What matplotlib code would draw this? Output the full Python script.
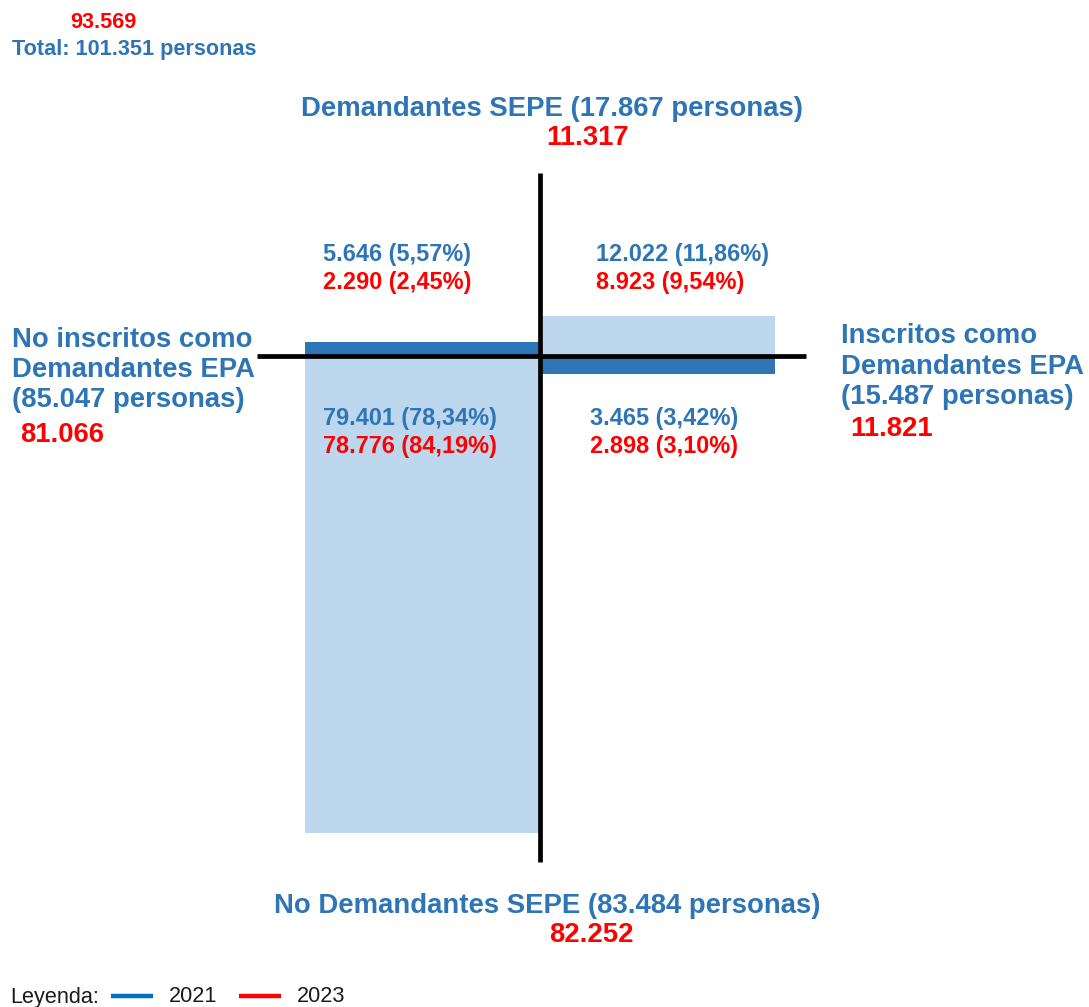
import matplotlib
matplotlib.use("Agg")
import matplotlib.pyplot as plt

# ---------------- data ----------------
total_2021 = "101.351"
total_2023 = "93.569"

axis_labels_2021 = {
    "top": "Demandantes SEPE (17.867 personas)",
    "bottom": "No Demandantes SEPE (83.484 personas)",
    "left": "No inscritos como\nDemandantes EPA\n(85.047 personas)",
    "right": "Inscritos como\nDemandantes EPA\n(15.487 personas)",
}
axis_values_2023 = {"top": "11.317", "bottom": "82.252", "left": "81.066", "right": "11.821"}

# quadrants: top-left, top-right, bottom-left, bottom-right
quadrants = ["TL", "TR", "BL", "BR"]
q_values_2021 = ["5.646 (5,57%)", "12.022 (11,86%)", "79.401 (78,34%)", "3.465 (3,42%)"]
q_values_2023 = ["2.290 (2,45%)", "8.923 (9,54%)", "78.776 (84,19%)", "2.898 (3,10%)"]
# bar extents (as drawn in the diagram, arbitrary units)
bar_heights = [14, 40, 477, 18]
bar_width = 235
bar_colors = ["#2E75B6", "#BDD7EE", "#BDD7EE", "#2E75B6"]

legend_years = ["2021", "2023"]
legend_colors = ["#0070C0", "#FF0000"]

BLUE = "#2E75B6"
RED = "#FF0000"
FONT = "Liberation Sans"

# ---------------- figure ----------------
W, H = 1089, 1007
fig = plt.figure(figsize=(W / 100, H / 100), dpi=100)
ax = fig.add_axes([0, 0, 1, 1])
ax.set_xlim(0, W)
ax.set_ylim(H, 0)
ax.axis("off")

cx, cy = 540, 356

# bars
dirs = {"TL": (-1, -1), "TR": (1, -1), "BL": (-1, 1), "BR": (1, 1)}
for q, h, c in zip(quadrants, bar_heights, bar_colors):
    sx, sy = dirs[q]
    left = cx if sx > 0 else cx - bar_width
    ax.bar(left, sy * h, width=bar_width, bottom=cy, align="edge",
           color=c, edgecolor="none", zorder=1)

# axes cross
ax.plot([257, 806], [cy, cy], color="black", lw=3.4, solid_capstyle="butt", zorder=3)
ax.plot([cx, cx], [173, 862], color="black", lw=3.4, solid_capstyle="butt", zorder=3)

big = 19.8
mid = 16.9
small = 15.6

# totals
ax.text(103, 22, total_2023, color=RED, fontsize=small, fontweight="bold",
        family=FONT, ha="center", va="center")
ax.text(12, 50, f"Total: {total_2021} personas", color=BLUE, fontsize=small,
        fontweight="bold", family=FONT, ha="left", va="center")

# axis labels
ax.text(552, 109, axis_labels_2021["top"], color=BLUE, fontsize=big, fontweight="bold",
        family=FONT, ha="center", va="center")
ax.text(588, 138, axis_values_2023["top"], color=RED, fontsize=big, fontweight="bold",
        family=FONT, ha="center", va="center")

ax.text(547, 906, axis_labels_2021["bottom"], color=BLUE, fontsize=big, fontweight="bold",
        family=FONT, ha="center", va="center")
ax.text(591, 935, axis_values_2023["bottom"], color=RED, fontsize=big, fontweight="bold",
        family=FONT, ha="center", va="center")

for i, line in enumerate(axis_labels_2021["left"].split("\n")):
    ax.text(12, 340 + 30 * i, line, color=BLUE, fontsize=big, fontweight="bold",
            family=FONT, ha="left", va="center")
ax.text(20, 435, axis_values_2023["left"], color=RED, fontsize=big, fontweight="bold",
        family=FONT, ha="left", va="center")

for i, line in enumerate(axis_labels_2021["right"].split("\n")):
    ax.text(841, 336 + 30.5 * i, line, color=BLUE, fontsize=big, fontweight="bold",
            family=FONT, ha="left", va="center")
ax.text(850, 429, axis_values_2023["right"], color=RED, fontsize=big, fontweight="bold",
        family=FONT, ha="left", va="center")

# quadrant values
q_pos = {"TL": (323, 254), "TR": (596, 254), "BL": (323, 419), "BR": (590, 419)}
for q, v21, v23 in zip(quadrants, q_values_2021, q_values_2023):
    x, y = q_pos[q]
    ax.text(x, y, v21, color=BLUE, fontsize=mid, fontweight="bold", family=FONT,
            ha="left", va="center")
    ax.text(x, y + 28, v23, color=RED, fontsize=mid, fontweight="bold", family=FONT,
            ha="left", va="center")

# legend
ax.text(10, 998, "Leyenda:", color="#1a1a1a", fontsize=small, family=FONT,
        ha="left", va="center")
leg_x = [111, 239]
for x0, yr, c in zip(leg_x, legend_years, legend_colors):
    ax.plot([x0, x0 + 42], [996, 996], color=c, lw=3.2, solid_capstyle="butt")
    ax.text(x0 + 58, 996, yr, color="#1a1a1a", fontsize=small, family=FONT,
            ha="left", va="center")

fig.savefig("out.png", dpi=100)
